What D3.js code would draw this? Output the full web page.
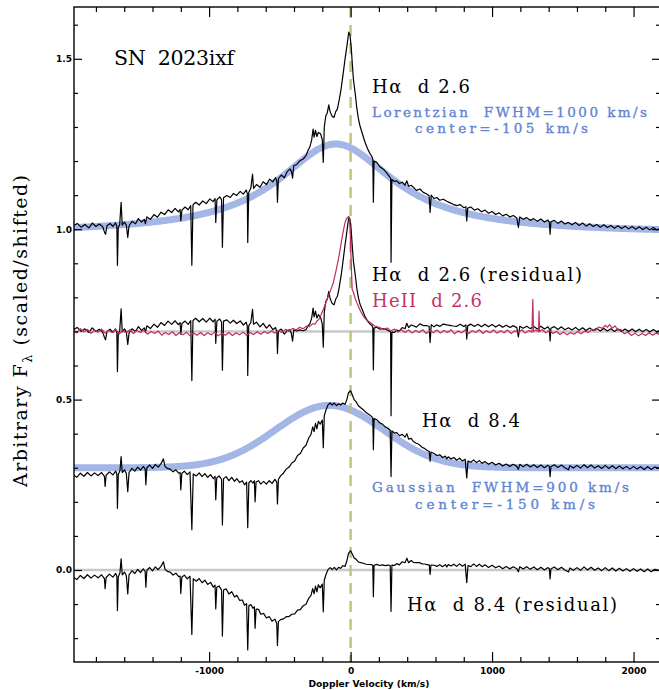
<!DOCTYPE html>
<html><head><meta charset="utf-8">
<script src="https://cdn.jsdelivr.net/npm/d3@7"></script>
<style>
html,body{margin:0;padding:0;background:#fff;}
svg{display:block;}
text{white-space:pre;}
</style></head><body>
<svg id="chart" width="659" height="690"></svg>
<script>
// ---- axis ticks ----
const xTickValues = [-1000, 0, 1000, 2000];
const xTickLabels = ["-1000", "0", "1000", "2000"];
const xMinorTicks = [-1800,-1600,-1400,-1200,-800,-600,-400,-200,200,400,600,800,1200,1400,1600,1800];
const yTickValues = [0, 0.5, 1.0, 1.5];
const yTickLabels = ["0.0", "0.5", "1.0", "1.5"];
const yMinorTicks = [-0.2,-0.1,0.1,0.2,0.3,0.4,0.6,0.7,0.8,0.9,1.1,1.2,1.3,1.4,1.6];

// ---- line-profile fits (km/s, scaled flux) ----
const lorentzFit = {center: -105, fwhm: 1000, base: 0.987, amp: 0.263};
const gaussFit   = {center: -150, fwhm: 900,  base: 0.300, amp: 0.183};
const resid26Offset = 0.7;
const resid84Offset = 0.0;

// ---- H-alpha, day 2.6 : [velocity km/s, scaled flux] ----
const halpha26 = [
[-1960,1.010],[-1932,1.017],[-1905,1.006],[-1878,1.014],[-1850,1.004],[-1826,1.018],[-1800,1.008],[-1776,1.015],[-1752,1.007],[-1740,0.992],[-1732,0.985],[-1722,1.010],[-1700,1.017],[-1680,1.008],[-1662,1.019],[-1652,1.008],[-1648,0.894],[-1642,1.005],[-1632,1.014],[-1622,1.079],[-1614,1.012],[-1598,1.021],[-1585,1.012],[-1575,0.976],[-1566,1.010],[-1545,1.023],[-1520,1.016],[-1500,1.031],[-1478,1.021],[-1458,1.029],[-1450,1.016],[-1440,1.036],[-1415,1.029],[-1390,1.043],[-1365,1.035],[-1340,1.050],[-1315,1.043],[-1290,1.057],[-1265,1.049],[-1240,1.061],[-1218,1.051],[-1205,1.058],[-1200,1.024],[-1192,1.056],[-1170,1.065],[-1148,1.057],[-1130,1.069],[-1122,0.894],[-1114,1.071],[-1095,1.079],[-1070,1.071],[-1045,1.083],[-1020,1.075],[-995,1.089],[-972,1.081],[-958,1.090],[-953,1.020],[-945,1.086],[-925,1.095],[-912,1.087],[-906,0.947],[-898,1.092],[-875,1.099],[-850,1.093],[-828,1.105],[-805,1.099],[-780,1.111],[-758,1.103],[-738,1.115],[-730,1.105],[-727,0.961],[-720,1.108],[-705,1.121],[-693,1.162],[-686,1.120],[-665,1.131],[-640,1.123],[-618,1.139],[-595,1.131],[-572,1.147],[-550,1.139],[-530,1.151],[-521,1.140],[-517,1.079],[-510,1.148],[-490,1.159],[-468,1.151],[-448,1.169],[-428,1.177],[-418,1.169],[-410,1.150],[-402,1.186],[-380,1.190],[-358,1.201],[-335,1.206],[-315,1.216],[-300,1.232],[-288,1.241],[-275,1.262],[-265,1.294],[-258,1.270],[-248,1.290],[-238,1.272],[-228,1.284],[-212,1.280],[-200,1.262],[-193,1.196],[-186,1.300],[-175,1.333],[-165,1.341],[-154,1.365],[-145,1.345],[-130,1.331],[-117,1.328],[-105,1.345],[-93,1.353],[-80,1.380],[-67,1.412],[-53,1.455],[-39,1.500],[-25,1.540],[-13,1.578],[-4,1.569],[5,1.530],[13,1.480],[20,1.440],[27,1.417],[35,1.390],[44,1.355],[55,1.325],[67,1.302],[85,1.278],[102,1.255],[120,1.236],[138,1.221],[150,1.214],[157,1.205],[161,1.079],[166,1.200],[185,1.196],[205,1.184],[232,1.176],[255,1.165],[279,1.152],[283,1.150],[286,0.903],[292,1.146],[310,1.140],[326,1.142],[345,1.134],[365,1.138],[385,1.129],[397,1.142],[410,1.126],[428,1.129],[444,1.123],[465,1.114],[490,1.118],[514,1.108],[535,1.104],[555,1.098],[562,1.049],[570,1.100],[590,1.090],[609,1.093],[630,1.085],[655,1.088],[680,1.082],[700,1.078],[725,1.073],[751,1.069],[775,1.072],[800,1.063],[815,1.066],[821,1.024],[828,1.062],[850,1.065],[875,1.056],[900,1.060],[925,1.051],[950,1.056],[975,1.047],[1000,1.052],[1025,1.043],[1050,1.048],[1075,1.039],[1100,1.044],[1127,1.036],[1150,1.040],[1175,1.033],[1186,1.005],[1196,1.036],[1220,1.029],[1245,1.034],[1269,1.026],[1295,1.031],[1320,1.023],[1345,1.030],[1370,1.021],[1395,1.027],[1405,1.020],[1410,0.985],[1416,1.022],[1440,1.026],[1465,1.017],[1490,1.024],[1515,1.015],[1540,1.020],[1565,1.013],[1590,1.020],[1615,1.011],[1640,1.018],[1665,1.009],[1690,1.016],[1715,1.008],[1740,1.014],[1765,1.006],[1790,1.013],[1815,1.005],[1840,1.011],[1865,1.003],[1890,1.010],[1915,1.002],[1940,1.009],[1965,1.001],[1990,1.008],[2015,1.000],[2040,1.007],[2065,0.999],[2090,1.006],[2115,0.998],[2140,1.005],[2165,0.998],[2190,1.003]
];

// ---- H-alpha, day 8.4 ----
const halpha84 = [
[-1960,0.279],[-1935,0.272],[-1910,0.284],[-1885,0.275],[-1860,0.286],[-1835,0.276],[-1810,0.285],[-1785,0.277],[-1760,0.286],[-1740,0.275],[-1735,0.245],[-1728,0.278],[-1705,0.288],[-1680,0.279],[-1660,0.290],[-1652,0.281],[-1648,0.181],[-1642,0.280],[-1630,0.292],[-1622,0.333],[-1614,0.286],[-1598,0.294],[-1585,0.283],[-1575,0.230],[-1566,0.286],[-1545,0.298],[-1525,0.290],[-1505,0.302],[-1485,0.293],[-1465,0.304],[-1452,0.296],[-1447,0.250],[-1440,0.300],[-1420,0.308],[-1400,0.298],[-1380,0.310],[-1360,0.302],[-1340,0.312],[-1323,0.326],[-1312,0.304],[-1295,0.298],[-1275,0.296],[-1255,0.288],[-1235,0.294],[-1215,0.284],[-1205,0.286],[-1200,0.235],[-1193,0.283],[-1175,0.290],[-1155,0.280],[-1135,0.288],[-1122,0.118],[-1112,0.282],[-1090,0.276],[-1070,0.285],[-1050,0.274],[-1030,0.283],[-1010,0.272],[-990,0.280],[-970,0.268],[-958,0.275],[-953,0.206],[-946,0.270],[-930,0.276],[-912,0.266],[-906,0.132],[-898,0.268],[-880,0.274],[-860,0.262],[-840,0.272],[-820,0.260],[-804,0.268],[-785,0.257],[-765,0.262],[-750,0.250],[-735,0.258],[-727,0.124],[-719,0.256],[-705,0.262],[-690,0.255],[-680,0.262],[-675,0.200],[-668,0.258],[-650,0.262],[-635,0.252],[-615,0.260],[-595,0.252],[-575,0.262],[-555,0.254],[-535,0.266],[-522,0.258],[-517,0.194],[-510,0.266],[-495,0.276],[-475,0.284],[-455,0.296],[-435,0.302],[-415,0.314],[-395,0.320],[-375,0.336],[-355,0.342],[-335,0.358],[-315,0.366],[-295,0.388],[-280,0.398],[-268,0.420],[-258,0.406],[-248,0.430],[-238,0.414],[-228,0.436],[-215,0.428],[-200,0.440],[-193,0.359],[-186,0.452],[-175,0.468],[-160,0.484],[-145,0.490],[-130,0.484],[-115,0.490],[-100,0.482],[-85,0.488],[-70,0.484],[-55,0.490],[-40,0.486],[-28,0.498],[-15,0.520],[0,0.526],[12,0.514],[25,0.500],[38,0.494],[55,0.482],[72,0.476],[90,0.470],[110,0.462],[130,0.456],[150,0.450],[157,0.446],[161,0.353],[166,0.444],[185,0.441],[205,0.432],[225,0.428],[245,0.420],[265,0.416],[280,0.410],[286,0.274],[292,0.408],[310,0.402],[326,0.403],[345,0.394],[365,0.398],[385,0.390],[398,0.400],[410,0.384],[428,0.386],[444,0.377],[465,0.372],[485,0.368],[505,0.360],[525,0.356],[545,0.350],[556,0.348],[562,0.319],[568,0.346],[590,0.342],[610,0.336],[630,0.338],[650,0.330],[670,0.334],[680,0.326],[690,0.332],[710,0.326],[730,0.330],[750,0.322],[770,0.328],[790,0.320],[810,0.325],[821,0.270],[830,0.320],[850,0.316],[870,0.323],[890,0.315],[910,0.321],[930,0.313],[950,0.318],[975,0.310],[1000,0.316],[1025,0.308],[1050,0.313],[1075,0.305],[1100,0.311],[1125,0.304],[1150,0.310],[1175,0.304],[1186,0.295],[1196,0.310],[1220,0.303],[1245,0.310],[1270,0.302],[1295,0.309],[1320,0.301],[1345,0.308],[1370,0.300],[1395,0.307],[1405,0.304],[1410,0.274],[1416,0.303],[1440,0.309],[1465,0.301],[1490,0.308],[1515,0.300],[1540,0.294],[1550,0.306],[1575,0.299],[1600,0.307],[1625,0.299],[1650,0.309],[1675,0.300],[1700,0.308],[1725,0.299],[1750,0.306],[1775,0.298],[1800,0.307],[1825,0.298],[1850,0.306],[1875,0.297],[1900,0.305],[1925,0.297],[1950,0.304],[1975,0.296],[2000,0.304],[2025,0.296],[2050,0.303],[2075,0.295],[2100,0.303],[2125,0.295],[2150,0.302],[2190,0.298]
];

// ---- He II, day 2.6 (shifted to the residual baseline) ----
const heII26 = [
[-1960,0.703],[-1935,0.696],[-1910,0.708],[-1885,0.699],[-1860,0.706],[-1835,0.694],[-1810,0.704],[-1785,0.698],[-1760,0.707],[-1735,0.695],[-1710,0.703],[-1685,0.697],[-1660,0.706],[-1635,0.693],[-1610,0.702],[-1585,0.696],[-1560,0.705],[-1535,0.694],[-1510,0.703],[-1485,0.697],[-1460,0.704],[-1435,0.692],[-1410,0.700],[-1385,0.694],[-1360,0.701],[-1335,0.689],[-1310,0.697],[-1285,0.691],[-1260,0.699],[-1235,0.688],[-1210,0.696],[-1185,0.690],[-1160,0.698],[-1135,0.687],[-1110,0.695],[-1085,0.689],[-1060,0.697],[-1035,0.688],[-1010,0.696],[-985,0.690],[-960,0.698],[-935,0.687],[-910,0.695],[-885,0.689],[-860,0.697],[-835,0.688],[-810,0.696],[-785,0.690],[-760,0.698],[-735,0.689],[-710,0.697],[-685,0.691],[-660,0.699],[-635,0.692],[-610,0.700],[-585,0.694],[-560,0.702],[-535,0.695],[-510,0.703],[-485,0.697],[-460,0.706],[-435,0.700],[-410,0.709],[-385,0.704],[-360,0.712],[-335,0.708],[-310,0.716],[-290,0.714],[-270,0.722],[-250,0.722],[-239,0.730],[-225,0.735],[-210,0.748],[-192,0.765],[-175,0.784],[-157,0.804],[-140,0.822],[-122,0.843],[-104,0.876],[-86,0.912],[-74,0.940],[-62,0.971],[-50,0.998],[-39,1.020],[-30,1.030],[-23,1.034],[-15,1.036],[-8,1.030],[-3,1.000],[1,0.941],[6,0.880],[11,0.824],[20,0.815],[30,0.800],[42,0.786],[55,0.774],[70,0.760],[90,0.745],[110,0.735],[138,0.726],[170,0.716],[208,0.711],[235,0.706],[260,0.710],[285,0.701],[310,0.707],[335,0.698],[360,0.705],[385,0.697],[410,0.704],[435,0.695],[460,0.703],[485,0.697],[510,0.705],[535,0.694],[560,0.702],[585,0.696],[610,0.704],[635,0.695],[660,0.703],[685,0.697],[710,0.705],[735,0.693],[760,0.701],[785,0.696],[810,0.704],[835,0.694],[860,0.702],[885,0.697],[910,0.705],[935,0.694],[960,0.702],[985,0.696],[1010,0.704],[1035,0.695],[1060,0.702],[1085,0.696],[1110,0.704],[1135,0.694],[1160,0.702],[1185,0.697],[1210,0.705],[1235,0.695],[1260,0.703],[1282,0.698],[1288,0.794],[1293,0.700],[1310,0.704],[1328,0.699],[1332,0.760],[1336,0.700],[1355,0.705],[1380,0.696],[1405,0.703],[1430,0.694],[1455,0.700],[1480,0.691],[1505,0.698],[1530,0.690],[1555,0.697],[1580,0.692],[1605,0.700],[1630,0.693],[1655,0.701],[1680,0.697],[1705,0.706],[1730,0.703],[1755,0.713],[1780,0.709],[1800,0.718],[1815,0.712],[1830,0.720],[1850,0.710],[1870,0.716],[1890,0.704],[1910,0.706],[1935,0.693],[1960,0.698],[1985,0.688],[2010,0.695],[2035,0.687],[2060,0.694],[2085,0.688],[2110,0.696],[2135,0.689],[2160,0.695],[2190,0.690]
];

// ---- profile functions ----
function lorentz(v, p) {
  const g = p.fwhm / 2;
  return p.base + p.amp * g * g / ((v - p.center) ** 2 + g * g);
}
function gauss(v, p) {
  const s = p.fwhm / (2 * Math.sqrt(2 * Math.LN2));
  return p.base + p.amp * Math.exp(-((v - p.center) ** 2) / (2 * s * s));
}

// residual = observed - fit, shifted to its own baseline
const resid26 = halpha26.map(([v, f]) => [v, f - lorentz(v, lorentzFit) + resid26Offset]);
const resid84 = halpha84.map(([v, f]) => [v, f - gauss(v, gaussFit) + resid84Offset]);
const fitVel = d3.range(-1960, 2195, 10);

// ---- layout ----
const svg = d3.select("#chart");
const L = 74, R = 660, T = 7, B = 662;
const x = d3.scaleLinear().domain([-1955, 2187]).range([L, R]);
const y = d3.scaleLinear().domain([-0.27, 1.652]).range([B, T]);

svg.append("defs").append("clipPath").attr("id", "plot")
  .append("rect").attr("x", L).attr("y", T).attr("width", R - L).attr("height", B - T);

const plot = svg.append("g").attr("clip-path", "url(#plot)");
const line = d3.line().x(d => x(d[0])).y(d => y(d[1]));

// zero levels of the residual curves
[resid26Offset, resid84Offset].forEach(v => {
  plot.append("line").attr("x1", L).attr("x2", R).attr("y1", y(v)).attr("y2", y(v))
    .attr("stroke", "#c8c8c8").attr("stroke-width", 2.6);
});

// fitted profiles
plot.append("path").datum(fitVel.map(v => [v, lorentz(v, lorentzFit)]))
  .attr("d", line).attr("fill", "none").attr("stroke", "#a3b6e6").attr("stroke-width", 7);
plot.append("path").datum(fitVel.map(v => [v, gauss(v, gaussFit)]))
  .attr("d", line).attr("fill", "none").attr("stroke", "#a3b6e6").attr("stroke-width", 7);

// rest velocity
plot.append("line").attr("x1", x(0)).attr("x2", x(0)).attr("y1", T).attr("y2", B)
  .attr("stroke", "#bcc27a").attr("stroke-width", 2.4).attr("stroke-dasharray", "11,7");

// spectra
[halpha26, resid26, halpha84, resid84].forEach(s => {
  plot.append("path").datum(s).attr("d", line).attr("fill", "none")
    .attr("stroke", "#000").attr("stroke-width", 1.2).attr("stroke-linejoin", "round");
});
plot.append("path").datum(heII26).attr("d", line).attr("fill", "none")
  .attr("stroke", "#c12d5f").attr("stroke-width", 1.2).attr("stroke-linejoin", "round");

// ---- axes ----
const tickFont = "DejaVu Sans, sans-serif";
function styleAxis(g) {
  g.select(".domain").remove();
  g.selectAll("line").attr("stroke", "#000").attr("stroke-width", 1.2);
  g.selectAll("text").attr("font-family", tickFont).attr("font-weight", "bold")
    .attr("font-size", 9).attr("fill", "#000");
}
svg.append("g").attr("transform", `translate(0,${B})`)
  .call(d3.axisBottom(x).tickValues(xTickValues).tickSize(-10).tickPadding(6)
    .tickFormat((d, i) => xTickLabels[i])).call(styleAxis);
svg.append("g").attr("transform", `translate(0,${B})`)
  .call(d3.axisBottom(x).tickValues(xMinorTicks).tickSize(-5).tickFormat("")).call(styleAxis);
svg.append("g").attr("transform", `translate(0,${T})`)
  .call(d3.axisTop(x).tickValues(xTickValues).tickSize(-10).tickFormat("")).call(styleAxis);
svg.append("g").attr("transform", `translate(0,${T})`)
  .call(d3.axisTop(x).tickValues(xMinorTicks).tickSize(-5).tickFormat("")).call(styleAxis);
svg.append("g").attr("transform", `translate(${L},0)`)
  .call(d3.axisLeft(y).tickValues(yTickValues).tickSize(-8).tickPadding(2)
    .tickFormat((d, i) => yTickLabels[i])).call(styleAxis);
svg.append("g").attr("transform", `translate(${L},0)`)
  .call(d3.axisLeft(y).tickValues(yMinorTicks).tickSize(-4).tickFormat("")).call(styleAxis);
svg.append("g").attr("transform", `translate(${R},0)`)
  .call(d3.axisRight(y).tickValues(yTickValues).tickSize(-8).tickFormat("")).call(styleAxis);
svg.append("g").attr("transform", `translate(${R},0)`)
  .call(d3.axisRight(y).tickValues(yMinorTicks).tickSize(-4).tickFormat("")).call(styleAxis);

svg.append("rect").attr("x", L).attr("y", T).attr("width", R - L).attr("height", B - T)
  .attr("fill", "none").attr("stroke", "#000").attr("stroke-width", 1.4);

// axis titles
svg.append("text").attr("x", 369).attr("y", 687).attr("text-anchor", "middle")
  .attr("font-family", tickFont).attr("font-weight", "bold").attr("font-size", 9)
  .attr("textLength", 121).attr("lengthAdjust", "spacingAndGlyphs")
  .text("Doppler Velocity (km/s)");

const serif = "DejaVu Serif, serif";
const yTitle = svg.append("text").attr("transform", "translate(27,331) rotate(-90)")
  .attr("text-anchor", "middle").attr("font-family", serif).attr("font-size", 19).attr("fill", "#000")
  .attr("textLength", 312).attr("lengthAdjust", "spacing");
yTitle.append("tspan").text("Arbitrary F");
yTitle.append("tspan").attr("font-size", 13).attr("dy", 5).text("λ");
yTitle.append("tspan").attr("dy", -5).text(" (scaled/shifted)");

// ---- annotations ----
function label(txt, xPos, yPos, size, color, width, weight) {
  const t = svg.append("text").attr("x", xPos).attr("y", yPos)
    .attr("font-family", serif).attr("font-size", size).attr("fill", color).text(txt);
  if (width) t.attr("textLength", width).attr("lengthAdjust", "spacing");
  if (weight) t.attr("stroke", color).attr("stroke-width", weight);
  return t;
}
const blue = "#5f84d4", magenta = "#c23565";
label("SN  2023ixf", 114, 65, 20.5, "#000", 120);
label("Hα  d 2.6", 372, 93, 18, "#000", 98);
label("Lorentzian  FWHM=1000 km/s", 372, 116.5, 13.5, blue, 275, 0.35);
label("center=-105 km/s", 415, 133, 13.5, blue, 173, 0.35);
label("Hα  d 2.6 (residual)", 372, 281, 18, "#000", 210);
label("HeII  d 2.6", 372, 307, 18, magenta, 110);
label("Hα  d 8.4", 422, 427, 18, "#000", 98);
label("Gaussian  FWHM=900 km/s", 372, 491.5, 13.5, blue, 257, 0.35);
label("center=-150 km/s", 415, 508.5, 13.5, blue, 180, 0.35);
label("Hα  d 8.4 (residual)", 407, 611, 18, "#000", 210);
</script>
</body></html>
